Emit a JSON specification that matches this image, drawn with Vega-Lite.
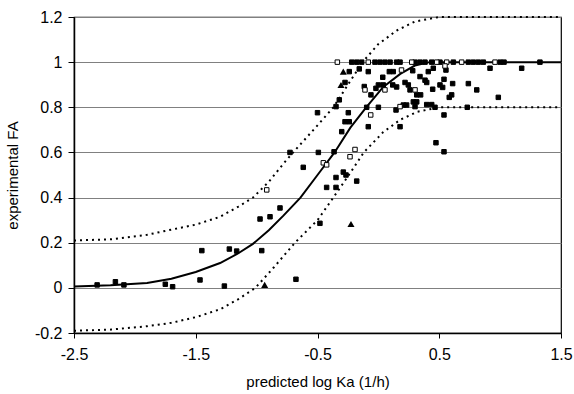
{
  "$schema": "https://vega.github.io/schema/vega-lite/v6.json",
  "width": 487,
  "height": 316,
  "autosize": {"type": "none"},
  "padding": {"left": 74, "top": 17, "right": 13, "bottom": 61},
  "background": "white",
  "config": {
    "view": {"stroke": "#000000", "strokeWidth": 1.2},
    "font": "Liberation Sans",
    "axis": {
      "labelFont": "Liberation Sans",
      "titleFont": "Liberation Sans",
      "labelFontSize": 16,
      "titleFontSize": 15,
      "titleFontWeight": "normal",
      "labelColor": "#000000",
      "titleColor": "#000000",
      "domainColor": "#000000",
      "domainWidth": 1.5,
      "tickColor": "#000000",
      "tickWidth": 1
    }
  },
  "datasets": {
    "curves": [
      {"x": -2.5, "y": 0.006, "series": "fit"},
      {"x": -2.2, "y": 0.012, "series": "fit"},
      {"x": -1.9, "y": 0.022, "series": "fit"},
      {"x": -1.7, "y": 0.04, "series": "fit"},
      {"x": -1.5, "y": 0.07, "series": "fit"},
      {"x": -1.3, "y": 0.11, "series": "fit"},
      {"x": -1.16, "y": 0.15, "series": "fit"},
      {"x": -1.03, "y": 0.195, "series": "fit"},
      {"x": -0.9, "y": 0.255, "series": "fit"},
      {"x": -0.78, "y": 0.32, "series": "fit"},
      {"x": -0.64, "y": 0.4, "series": "fit"},
      {"x": -0.5, "y": 0.5, "series": "fit"},
      {"x": -0.36, "y": 0.6, "series": "fit"},
      {"x": -0.23, "y": 0.71, "series": "fit"},
      {"x": -0.1, "y": 0.8, "series": "fit"},
      {"x": 0.04, "y": 0.89, "series": "fit"},
      {"x": 0.18, "y": 0.948, "series": "fit"},
      {"x": 0.3, "y": 0.985, "series": "fit"},
      {"x": 0.42, "y": 1.0, "series": "fit"},
      {"x": 1.5, "y": 1.0, "series": "fit"},
      {"x": -2.5, "y": 0.21, "series": "upper"},
      {"x": -2.2, "y": 0.215, "series": "upper"},
      {"x": -1.9, "y": 0.235, "series": "upper"},
      {"x": -1.7, "y": 0.258, "series": "upper"},
      {"x": -1.5, "y": 0.28, "series": "upper"},
      {"x": -1.3, "y": 0.315, "series": "upper"},
      {"x": -1.15, "y": 0.36, "series": "upper"},
      {"x": -1.03, "y": 0.4, "series": "upper"},
      {"x": -0.9, "y": 0.47, "series": "upper"},
      {"x": -0.78, "y": 0.55, "series": "upper"},
      {"x": -0.7, "y": 0.6, "series": "upper"},
      {"x": -0.5, "y": 0.72, "series": "upper"},
      {"x": -0.37, "y": 0.8, "series": "upper"},
      {"x": -0.25, "y": 0.9, "series": "upper"},
      {"x": -0.13, "y": 1.0, "series": "upper"},
      {"x": 0.0, "y": 1.08, "series": "upper"},
      {"x": 0.15, "y": 1.14, "series": "upper"},
      {"x": 0.3, "y": 1.18, "series": "upper"},
      {"x": 0.5, "y": 1.2, "series": "upper"},
      {"x": 1.5, "y": 1.2, "series": "upper"},
      {"x": -2.5, "y": -0.19, "series": "lower"},
      {"x": -2.2, "y": -0.185, "series": "lower"},
      {"x": -1.9, "y": -0.17, "series": "lower"},
      {"x": -1.7, "y": -0.155, "series": "lower"},
      {"x": -1.5, "y": -0.13, "series": "lower"},
      {"x": -1.3, "y": -0.095, "series": "lower"},
      {"x": -1.15, "y": -0.05, "series": "lower"},
      {"x": -1.01, "y": 0.0, "series": "lower"},
      {"x": -0.86, "y": 0.09, "series": "lower"},
      {"x": -0.685, "y": 0.2, "series": "lower"},
      {"x": -0.5, "y": 0.3, "series": "lower"},
      {"x": -0.37, "y": 0.4, "series": "lower"},
      {"x": -0.23, "y": 0.51, "series": "lower"},
      {"x": -0.12, "y": 0.6, "series": "lower"},
      {"x": 0.04, "y": 0.69, "series": "lower"},
      {"x": 0.18, "y": 0.745, "series": "lower"},
      {"x": 0.32, "y": 0.78, "series": "lower"},
      {"x": 0.5, "y": 0.8, "series": "lower"},
      {"x": 1.5, "y": 0.8, "series": "lower"}
    ],
    "points": [
      {"x": -2.31, "y": 0.013, "kind": "filled"},
      {"x": -2.16, "y": 0.027, "kind": "filled"},
      {"x": -2.09, "y": 0.013, "kind": "filled"},
      {"x": -1.75, "y": 0.016, "kind": "filled"},
      {"x": -1.69, "y": 0.005, "kind": "filled"},
      {"x": -1.465, "y": 0.035, "kind": "filled"},
      {"x": -1.45, "y": 0.165, "kind": "filled"},
      {"x": -1.265, "y": 0.008, "kind": "filled"},
      {"x": -1.224, "y": 0.172, "kind": "filled"},
      {"x": -1.164, "y": 0.163, "kind": "filled"},
      {"x": -0.972, "y": 0.305, "kind": "filled"},
      {"x": -0.958, "y": 0.165, "kind": "filled"},
      {"x": -0.89, "y": 0.315, "kind": "filled"},
      {"x": -0.808, "y": 0.354, "kind": "filled"},
      {"x": -0.677, "y": 0.038, "kind": "filled"},
      {"x": -0.5, "y": 0.776, "kind": "filled"},
      {"x": -0.726, "y": 0.6, "kind": "filled"},
      {"x": -0.493, "y": 0.6, "kind": "filled"},
      {"x": -0.617, "y": 0.534, "kind": "filled"},
      {"x": -0.364, "y": 0.603, "kind": "filled"},
      {"x": -0.48, "y": 0.286, "kind": "filled"},
      {"x": -0.219, "y": 1.0, "kind": "filled"},
      {"x": -0.178, "y": 1.0, "kind": "filled"},
      {"x": -0.137, "y": 1.0, "kind": "filled"},
      {"x": -0.028, "y": 1.0, "kind": "filled"},
      {"x": 0.013, "y": 1.0, "kind": "filled"},
      {"x": 0.054, "y": 1.0, "kind": "filled"},
      {"x": 0.096, "y": 1.0, "kind": "filled"},
      {"x": 0.15, "y": 1.0, "kind": "filled"},
      {"x": 0.178, "y": 1.0, "kind": "filled"},
      {"x": 0.301, "y": 1.0, "kind": "filled"},
      {"x": 0.342, "y": 1.0, "kind": "filled"},
      {"x": 0.383, "y": 1.0, "kind": "filled"},
      {"x": 0.438, "y": 1.0, "kind": "filled"},
      {"x": 0.506, "y": 1.0, "kind": "filled"},
      {"x": 0.616, "y": 1.0, "kind": "filled"},
      {"x": 0.739, "y": 1.0, "kind": "filled"},
      {"x": 0.78, "y": 1.0, "kind": "filled"},
      {"x": 0.821, "y": 1.0, "kind": "filled"},
      {"x": 0.862, "y": 1.0, "kind": "filled"},
      {"x": 0.999, "y": 1.0, "kind": "filled"},
      {"x": 1.032, "y": 1.0, "kind": "filled"},
      {"x": 1.327, "y": 1.0, "kind": "filled"},
      {"x": -0.239, "y": 0.958, "kind": "filled"},
      {"x": -0.157, "y": 0.97, "kind": "filled"},
      {"x": -0.083, "y": 0.958, "kind": "filled"},
      {"x": 0.09, "y": 0.958, "kind": "filled"},
      {"x": 0.122, "y": 0.958, "kind": "filled"},
      {"x": 0.282, "y": 0.962, "kind": "filled"},
      {"x": 0.41, "y": 0.958, "kind": "filled"},
      {"x": 0.451, "y": 0.973, "kind": "filled"},
      {"x": 0.555, "y": 0.965, "kind": "filled"},
      {"x": 0.917, "y": 0.973, "kind": "filled"},
      {"x": 1.177, "y": 0.973, "kind": "filled"},
      {"x": -0.274, "y": 0.91, "kind": "filled"},
      {"x": -0.321, "y": 0.833, "kind": "filled"},
      {"x": -0.348, "y": 0.803, "kind": "filled"},
      {"x": -0.116, "y": 0.892, "kind": "filled"},
      {"x": -0.061, "y": 0.855, "kind": "filled"},
      {"x": -0.02, "y": 0.884, "kind": "filled"},
      {"x": 0.0, "y": 0.899, "kind": "filled"},
      {"x": 0.04, "y": 0.899, "kind": "filled"},
      {"x": 0.036, "y": 0.933, "kind": "filled"},
      {"x": 0.118, "y": 0.899, "kind": "filled"},
      {"x": 0.15, "y": 0.89, "kind": "filled"},
      {"x": 0.219, "y": 0.91, "kind": "filled"},
      {"x": 0.246, "y": 0.899, "kind": "filled"},
      {"x": 0.26, "y": 0.877, "kind": "filled"},
      {"x": 0.315, "y": 0.855, "kind": "filled"},
      {"x": 0.347, "y": 0.855, "kind": "filled"},
      {"x": 0.342, "y": 0.936, "kind": "filled"},
      {"x": 0.383, "y": 0.92, "kind": "filled"},
      {"x": 0.397, "y": 0.91, "kind": "filled"},
      {"x": 0.446, "y": 0.88, "kind": "filled"},
      {"x": 0.506, "y": 0.899, "kind": "filled"},
      {"x": 0.528, "y": 0.888, "kind": "filled"},
      {"x": 0.539, "y": 0.924, "kind": "filled"},
      {"x": 0.602, "y": 0.855, "kind": "filled"},
      {"x": 0.582, "y": 0.844, "kind": "filled"},
      {"x": 0.61, "y": 0.905, "kind": "filled"},
      {"x": 0.739, "y": 0.905, "kind": "filled"},
      {"x": 0.808, "y": 0.877, "kind": "filled"},
      {"x": 0.985, "y": 0.844, "kind": "filled"},
      {"x": -0.247, "y": 0.776, "kind": "filled"},
      {"x": 0.0, "y": 0.8, "kind": "filled"},
      {"x": -0.096, "y": 0.8, "kind": "filled"},
      {"x": -0.274, "y": 0.736, "kind": "filled"},
      {"x": -0.239, "y": 0.736, "kind": "filled"},
      {"x": -0.301, "y": 0.692, "kind": "filled"},
      {"x": -0.083, "y": 0.714, "kind": "filled"},
      {"x": 0.145, "y": 0.788, "kind": "filled"},
      {"x": 0.205, "y": 0.81, "kind": "filled"},
      {"x": 0.232, "y": 0.81, "kind": "filled"},
      {"x": 0.287, "y": 0.824, "kind": "filled"},
      {"x": 0.315, "y": 0.824, "kind": "filled"},
      {"x": 0.301, "y": 0.803, "kind": "filled"},
      {"x": 0.397, "y": 0.812, "kind": "filled"},
      {"x": 0.438, "y": 0.812, "kind": "filled"},
      {"x": 0.465, "y": 0.8, "kind": "filled"},
      {"x": 0.539, "y": 0.766, "kind": "filled"},
      {"x": 0.178, "y": 0.714, "kind": "filled"},
      {"x": 0.73, "y": 0.8, "kind": "filled"},
      {"x": 0.473, "y": 0.643, "kind": "filled"},
      {"x": 0.539, "y": 0.603, "kind": "filled"},
      {"x": -0.348, "y": 0.489, "kind": "filled"},
      {"x": -0.288, "y": 0.513, "kind": "filled"},
      {"x": -0.266, "y": 0.5, "kind": "filled"},
      {"x": -0.178, "y": 0.473, "kind": "filled"},
      {"x": -0.425, "y": 0.445, "kind": "filled"},
      {"x": -0.348, "y": 0.445, "kind": "filled"},
      {"x": -0.917, "y": 0.434, "kind": "open"},
      {"x": -0.337, "y": 1.0, "kind": "open"},
      {"x": -0.083, "y": 1.0, "kind": "open"},
      {"x": 0.274, "y": 1.0, "kind": "open"},
      {"x": 0.479, "y": 1.0, "kind": "open"},
      {"x": 0.561, "y": 1.0, "kind": "open"},
      {"x": 0.684, "y": 1.0, "kind": "open"},
      {"x": 0.958, "y": 1.0, "kind": "open"},
      {"x": 0.19, "y": 0.965, "kind": "open"},
      {"x": 0.547, "y": 0.983, "kind": "open"},
      {"x": -0.11, "y": 0.877, "kind": "open"},
      {"x": 0.054, "y": 0.877, "kind": "open"},
      {"x": 0.301, "y": 0.877, "kind": "open"},
      {"x": -0.063, "y": 0.766, "kind": "open"},
      {"x": 0.178, "y": 0.803, "kind": "open"},
      {"x": -0.192, "y": 0.613, "kind": "open"},
      {"x": -0.233, "y": 0.581, "kind": "open"},
      {"x": -0.452, "y": 0.554, "kind": "open"},
      {"x": -0.425, "y": 0.545, "kind": "open"},
      {"x": -0.934, "y": 0.013, "kind": "triangle"},
      {"x": -0.288, "y": 0.958, "kind": "triangle"},
      {"x": -0.307, "y": 0.899, "kind": "triangle"},
      {"x": -0.225, "y": 0.283, "kind": "triangle"}
    ]
  },
  "encoding": {
    "x": {
      "field": "x",
      "type": "quantitative",
      "scale": {"domain": [-2.5, 1.5], "nice": false, "zero": false},
      "axis": {
        "title": "predicted log Ka (1/h)",
        "values": [-2.5, -1.5, -0.5, 0.5, 1.5],
        "labelExpr": "replace(format(datum.value, '.1f'), '\u2212', '-')",
        "grid": false,
        "tickSize": 5,
        "labelPadding": 8,
        "titlePadding": 12,
        "labelFlush": false
      }
    },
    "y": {
      "field": "y",
      "type": "quantitative",
      "scale": {"domain": [-0.2, 1.2], "nice": false, "zero": false},
      "axis": {
        "title": "experimental FA",
        "values": [-0.2, 0, 0.2, 0.4, 0.6, 0.8, 1, 1.2],
        "labelExpr": "replace(format(datum.value, '~g'), '\u2212', '-')",
        "grid": true,
        "gridColor": "#808080",
        "gridWidth": 1,
        "gridOpacity": 1,
        "tickSize": 6,
        "labelPadding": 6,
        "titlePadding": 14,
        "labelFlush": false
      }
    }
  },
  "layer": [
    {
      "data": {"name": "curves"},
      "transform": [{"filter": "datum.series === 'fit'"}],
      "mark": {"type": "line", "color": "#000000", "strokeWidth": 2},
      "encoding": {}
    },
    {
      "data": {"name": "curves"},
      "transform": [{"filter": "datum.series !== 'fit'"}],
      "mark": {"type": "line", "color": "#000000", "strokeWidth": 2, "strokeDash": [2, 4]},
      "encoding": {"detail": {"field": "series"}}
    },
    {
      "data": {"name": "points"},
      "transform": [{"filter": "datum.kind !== 'triangle'"}],
      "mark": {"type": "point", "shape": "square", "filled": true, "stroke": "#000000", "strokeWidth": 1, "opacity": 1, "size": 20},
      "encoding": {
        "fill": {
          "field": "kind",
          "type": "nominal",
          "scale": {"domain": ["filled", "open"], "range": ["#000000", "#ffffff"]},
          "legend": null
        }
      }
    },
    {
      "data": {"name": "points"},
      "transform": [{"filter": "datum.kind === 'triangle'"}],
      "mark": {"type": "point", "shape": "triangle-up", "filled": true, "color": "#000000", "opacity": 1, "size": 50},
      "encoding": {}
    }
  ]
}
